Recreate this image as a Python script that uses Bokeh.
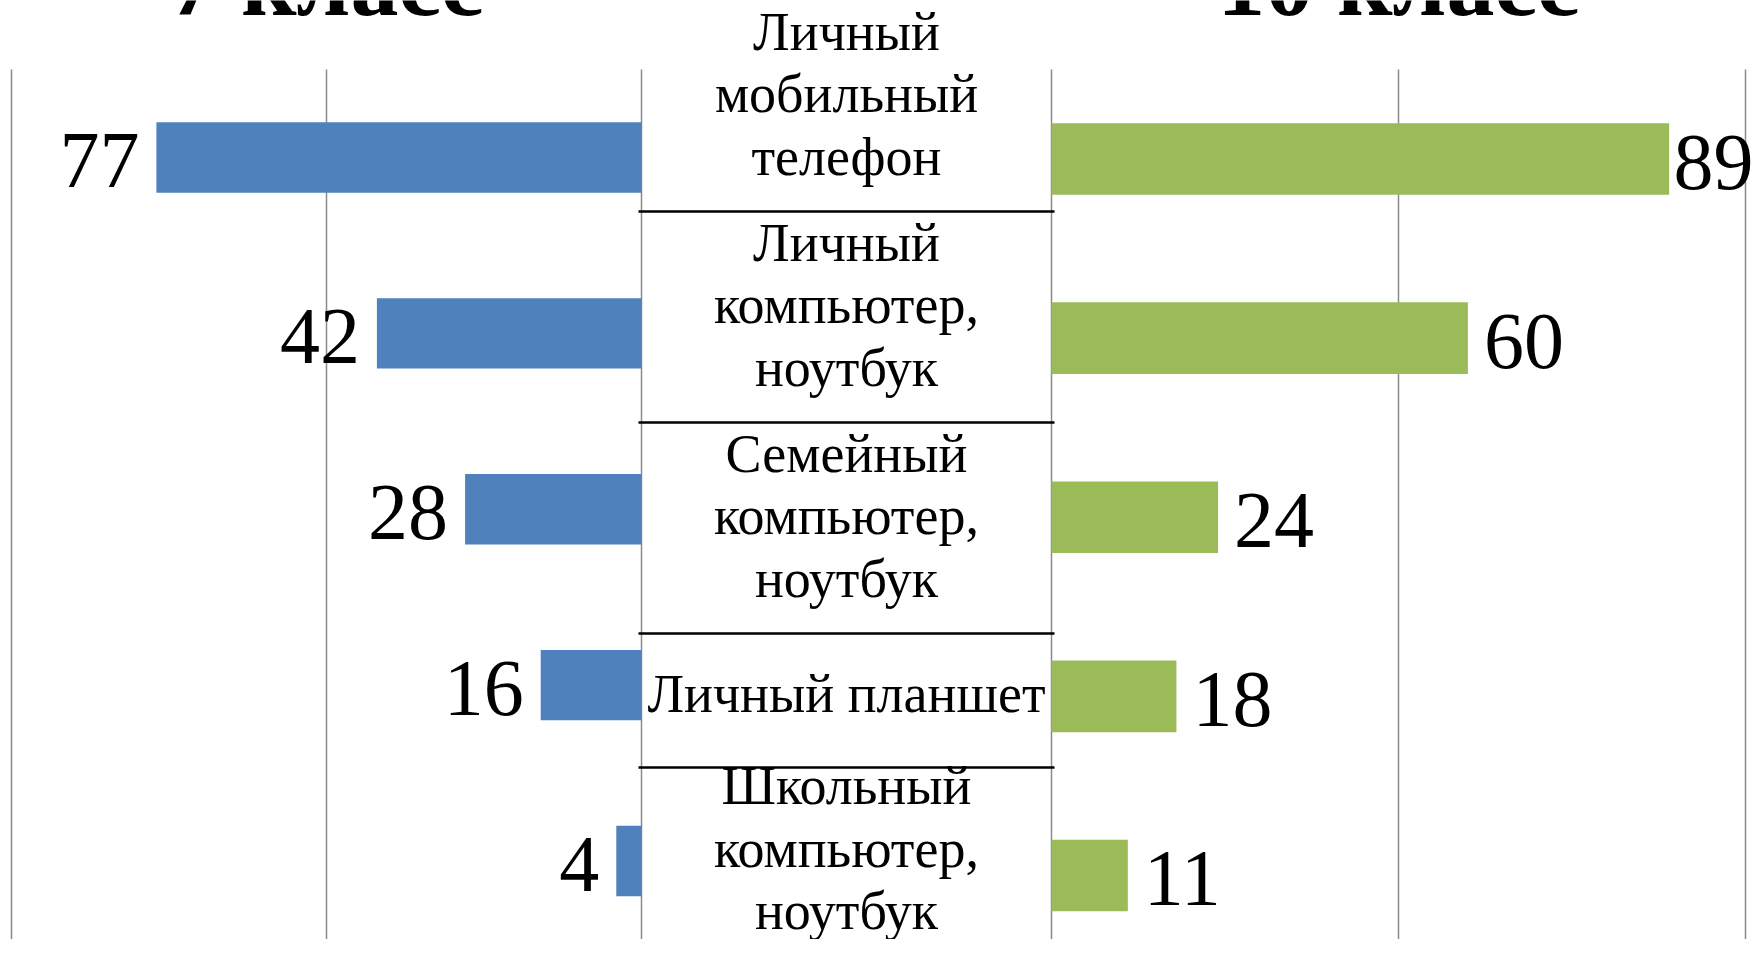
from bokeh.plotting import figure
from bokeh.models import Range1d
from bokeh.core.properties import value
from bokeh.embed import file_html
from bokeh.resources import INLINE

# ---------------- data ----------------
categories = [
    "Личный\nмобильный\nтелефон",
    "Личный\nкомпьютер,\nноутбук",
    "Семейный\nкомпьютер,\nноутбук",
    "Личный планшет",
    "Школьный\nкомпьютер,\nноутбук",
]
grade7 = [77, 42, 28, 16, 4]
grade10 = [89, 60, 24, 18, 11]
series_titles = ["7 класс", "10 класс"]
grid_ticks = [0, 50, 100]

# ---------------- layout constants (canvas px) ----------------
W, H = 1755, 939
PLOT_TOP = 69
L_ZERO_PX, L_PX_PER = 641, 6.30
R_ZERO_PX, R_PX_PER = 1051, 6.94
L_ROW, R_ROW = 175.9, 179.1
BAR_H = 0.4
FONT = "Liberation Serif"
BLUE, GREEN, GRID = "#4F81BD", "#9BBB59", "#8a8a8a"
NUM_SIZE = 80
NUM_GAP = 16

TABLE_X0, TABLE_X1 = 638, 1054
TABLE_TOP = 0
LINE_H, ROW_PAD, ROW_MIN = 64.5, 17.5, 134
LABEL_SIZE = 54
LABEL_LINE_HEIGHT = 1.04
TEXT_DY, TEXT_DY_LINE = -7, -2.25
TITLE_BASELINE = -18

idx = list(range(len(categories)))

p = figure(width=W, height=H, output_backend="svg", toolbar_location=None,
           x_range=Range1d(0, W), y_range=Range1d(H, 0),
           x_axis_location=None, y_axis_location=None,
           min_border=0, outline_line_color=None)
p.xgrid.visible = False
p.ygrid.visible = False

ly = Range1d(-0.5 + (H - PLOT_TOP) / L_ROW, -0.5 - PLOT_TOP / L_ROW)
ry = Range1d(-0.5 + (H - PLOT_TOP) / R_ROW, -0.5 - PLOT_TOP / R_ROW)
p.extra_x_ranges = {
    "left": Range1d(L_ZERO_PX / L_PX_PER, (L_ZERO_PX - W) / L_PX_PER),
    "right": Range1d(-R_ZERO_PX / R_PX_PER, (W - R_ZERO_PX) / R_PX_PER),
}
p.extra_y_ranges = {"ly": ly, "ry": ry}

# gridlines
n = len(grid_ticks)
p.segment(x0=grid_ticks, x1=grid_ticks, y0=[-0.5] * n, y1=[ly.start] * n,
          x_range_name="left", y_range_name="ly", line_color=GRID, line_width=1.5)
p.segment(x0=grid_ticks, x1=grid_ticks, y0=[-0.5] * n, y1=[ry.start] * n,
          x_range_name="right", y_range_name="ry", line_color=GRID, line_width=1.5)

# bars
p.hbar(y=idx, left=0, right=grade7, height=BAR_H, fill_color=BLUE, line_color=None,
       x_range_name="left", y_range_name="ly")
p.hbar(y=idx, left=0, right=grade10, height=BAR_H, fill_color=GREEN, line_color=None,
       x_range_name="right", y_range_name="ry")

# value labels
p.text(x=grade7, y=idx, text=[str(v) for v in grade7], x_offset=-(NUM_GAP + 1), y_offset=3,
       text_align="right", text_baseline="middle", text_font=value(FONT),
       text_font_size=f"{NUM_SIZE}px", text_color="black",
       x_range_name="left", y_range_name="ly")
# keep right-hand labels inside the canvas (estimated text width)
r_offsets = []
for v in grade10:
    est_right = R_ZERO_PX + v * R_PX_PER + NUM_GAP + len(str(v)) * NUM_SIZE * 0.5
    r_offsets.append(NUM_GAP - max(0, est_right - (W - 2)))
p.text(x=grade10, y=idx, text=[str(v) for v in grade10], x_offset=r_offsets, y_offset=3,
       text_align="left", text_baseline="middle", text_font=value(FONT),
       text_font_size=f"{NUM_SIZE}px", text_color="black",
       x_range_name="right", y_range_name="ry")

# center table
bounds = [TABLE_TOP]
nlines = []
for c in categories:
    nl = c.count("\n") + 1
    nlines.append(nl)
    bounds.append(bounds[-1] + max(ROW_MIN, nl * LINE_H + ROW_PAD))
centers = []
for a, b, nl in zip(bounds[:-1], bounds[1:], nlines):
    cy = (a + b) / 2 + TEXT_DY + TEXT_DY_LINE * (nl - 1)
    cy = min(cy, H - nl * LINE_H / 2 + 6)   # keep the block inside the canvas
    centers.append(cy)
seps = bounds[1:-1]
p.segment(x0=[TABLE_X0] * len(seps), x1=[TABLE_X1] * len(seps), y0=seps, y1=seps,
          line_color="black", line_width=2.5)
p.text(x=[(TABLE_X0 + TABLE_X1) / 2] * len(categories), y=centers, text=categories,
       text_align="center", text_baseline="middle", text_font=value(FONT),
       text_font_size=f"{LABEL_SIZE}px", text_line_height=LABEL_LINE_HEIGHT,
       text_color="black")

# panel titles
p.text(x=[50], y=[TITLE_BASELINE], text=[series_titles[0]], text_align="center",
       text_baseline="alphabetic", text_font=value(FONT), text_font_style="bold",
       text_font_size="96px", text_color="black", x_range_name="left")
p.text(x=[50], y=[TITLE_BASELINE], text=[series_titles[1]], text_align="center",
       text_baseline="alphabetic", text_font=value(FONT), text_font_style="bold",
       text_font_size="96px", text_color="black", x_range_name="right")

open("out.html", "w").write(file_html(p, INLINE))
